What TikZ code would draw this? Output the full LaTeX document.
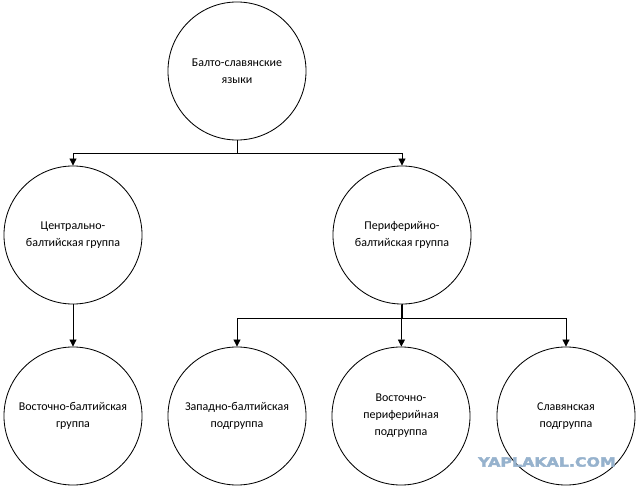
\documentclass[tikz,border=0pt]{standalone}
\usepackage{fontspec}
\setmainfont{Carlito}
\newfontfamily\wmfont[BoldFeatures={FakeBold=2.5}]{DejaVu Sans}
\usetikzlibrary{arrows.meta}
\definecolor{wmblue}{RGB}{150,178,205}
\tikzset{
lang/.style={draw, circle, line width=0.6pt, minimum size=3.45cm, inner sep=0pt,
  align=center, font=\fontsize{8.5}{12}\selectfont},
arr/.style={line width=0.6pt, -{Triangle[width=5pt,length=5pt]}},
watermark/.style={text=wmblue, font=\wmfont\bfseries\fontsize{9}{9}\selectfont, xscale=1.25}
}

\begin{document}
\begin{tikzpicture}[x=0.025cm,y=-0.025cm]
\useasboundingbox (0,0) rectangle (640,493);
\node[lang] (baltoslav) at (237,71) {Балто-славянские\\языки};
\node[lang] (central) at (73,235) {Центрально-\\балтийская группа};
\node[lang] (periph) at (402,235) {Периферийно-\\балтийская группа};
\node[lang] (eastbalt) at (73,416) {Восточно-балтийская\\группа};
\node[lang] (westbalt) at (237,416) {Западно-балтийская\\подгруппа};
\node[lang] (eastper) at (401,416) {Восточно-\\периферийная\\подгруппа};
\node[lang] (slav) at (566,416) {Славянская\\подгруппа};
% first level
\draw[arr] (baltoslav.south) -- ++(0,13) -| (central.north);
\draw[arr] (baltoslav.south) -- ++(0,13) -| (periph.north);
% second level
\draw[arr] (central) -- (eastbalt);
\draw[arr] (periph.south) -- ++(0,14) -| (westbalt.north);
\draw[arr] (periph) -- (eastper);
\draw[arr] (periph.south) -- ++(0,14) -| (slav.north);
\node[watermark] (yap) at (547,462) {YAPLAKAL.COM};
\end{tikzpicture}
\end{document}
